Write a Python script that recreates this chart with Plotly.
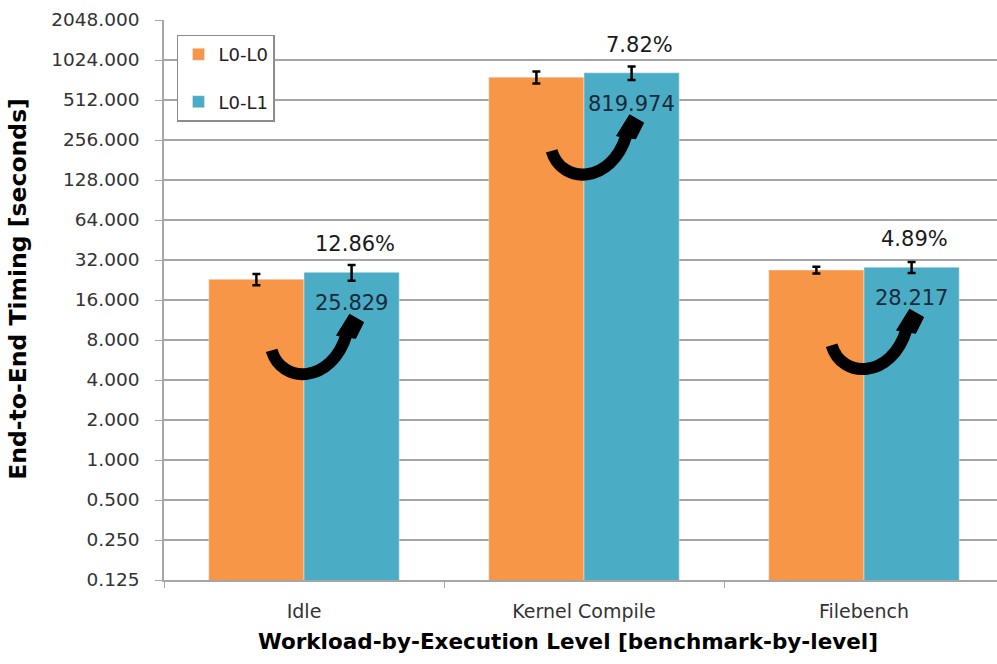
import numpy as np
import plotly.graph_objects as go

# Benchmarks and measured end-to-end timings (seconds)
categories = ["Idle", "Kernel Compile", "Filebench"]
l0_l0 = [22.886, 760.50, 26.900]
l0_l1 = [25.829, 819.974, 28.217]
l0_l0_err = [2.2, 78.0, 1.6]
l0_l1_err = [3.5, 95.0, 2.7]
overhead_labels = ["12.86%", "7.82%", "4.89%"]
value_labels = ["25.829", "819.974", "28.217"]

y_tickvals = [0.125, 0.25, 0.5, 1, 2, 4, 8, 16, 32, 64, 128, 256, 512, 1024, 2048]
y_ticktext = ["0.125", "0.250", "0.500", "1.000", "2.000", "4.000", "8.000", "16.000",
              "32.000", "64.000", "128.000", "256.000", "512.000", "1024.000", "2048.000"]

ORANGE = "#F79646"
TEAL = "#4BACC6"
GRID = "#a6a6a6"
FONT = "DejaVu Sans"

fig = go.Figure()
fig.add_trace(go.Bar(
    name="L0-L0", x=categories, y=l0_l0, marker_color=ORANGE, legendgroup="a",
    error_y=dict(type="data", array=l0_l0_err, color="black", thickness=2.5, width=4),
))
fig.add_trace(go.Bar(
    name="L0-L1", x=categories, y=l0_l1, marker_color=TEAL, legendgroup="b",
    error_y=dict(type="data", array=l0_l1_err, color="black", thickness=2.5, width=4),
))

# Overhead percentage above each L0-L1 bar and its value just inside the top
annotations = []
pct_xshift = [3, 8, 3]
for i, (v, pct, lab) in enumerate(zip(l0_l1, overhead_labels, value_labels)):
    annotations.append(dict(x=i + 0.17, y=np.log10(v), xref="x", yref="y", text=pct,
                            showarrow=False, yshift=28, xshift=pct_xshift[i],
                            font=dict(family=FONT, size=21, color="#1a1a1a")))
    annotations.append(dict(x=i + 0.17, y=np.log10(v), xref="x", yref="y", text=lab,
                            showarrow=False, yshift=-31,
                            font=dict(family=FONT, size=21, color="#1a2a3a")))

annotations.append(dict(x=0, y=0.52, xref="paper", yref="paper", xanchor="center",
                        yanchor="middle", xshift=-146, textangle=-90, showarrow=False,
                        text="<b>End-to-End Timing [seconds]</b>",
                        font=dict(family=FONT, size=23.5, color="black")))
annotations.append(dict(x=0.485, y=0, xref="paper", yref="paper", xanchor="center",
                        yanchor="middle", yshift=-61, showarrow=False,
                        text="<b>Workload-by-Execution Level [benchmark-by-level]</b>",
                        font=dict(family=FONT, size=21.5, color="black")))

# Curved "from L0-L0 to L0-L1" arrows, laid out in pixel offsets from the top of each L0-L1 bar
PX_PER_CAT = 280.0
PX_PER_DOUBLING = 40.0


def to_xy(i, v, dx, dy):
    return i + 0.17 + dx / PX_PER_CAT, v * 2 ** (-dy / PX_PER_DOUBLING)


shapes = []
for i, v in enumerate(l0_l1):
    p0 = to_xy(i, v, -80, 78)
    c1 = to_xy(i, v, -70, 112)
    c2 = to_xy(i, v, -20, 112)
    p3 = to_xy(i, v, -5, 62)
    shapes.append(dict(type="path", xref="x", yref="y",
                       path=f"M{p0[0]},{p0[1]} C{c1[0]},{c1[1]} {c2[0]},{c2[1]} {p3[0]},{p3[1]}",
                       line=dict(color="black", width=12)))
    h1 = to_xy(i, v, -15, 63)
    h2 = to_xy(i, v, -2, 42)
    h3 = to_xy(i, v, 12, 50)
    h4 = to_xy(i, v, 4, 66)
    shapes.append(dict(type="path", xref="x", yref="y",
                       path=f"M{h1[0]},{h1[1]} L{h2[0]},{h2[1]} L{h3[0]},{h3[1]} L{h4[0]},{h4[1]} Z",
                       fillcolor="black", line=dict(color="black", width=1)))

fig.update_layout(
    width=997, height=664,
    margin=dict(l=164, r=0, t=20, b=84),
    paper_bgcolor="white", plot_bgcolor="white",
    barmode="group", bargap=0.32, bargroupgap=0,
    font=dict(family=FONT, size=18, color="#333333"),
    legend=dict(x=0.0156, y=0.974, xanchor="left", yanchor="top",
                bgcolor="white", bordercolor="#8c8c8c", borderwidth=1.5,
                font=dict(family=FONT, size=18, color="#222222"),
                tracegroupgap=21, traceorder="grouped"),
    annotations=annotations,
    shapes=shapes,
    xaxis=dict(type="category", range=[-0.5, 2.475], showgrid=False,
               showline=True, linecolor=GRID, linewidth=1.5,
               ticks="outside", tickson="boundaries", ticklen=6, tickcolor=GRID,
               tickfont=dict(family=FONT, size=19, color="#333333"),
               ticklabelstandoff=13),
    yaxis=dict(type="log", range=[np.log10(0.125), np.log10(2048)],
               tickvals=y_tickvals, ticktext=y_ticktext,
               showgrid=True, gridcolor=GRID, gridwidth=1.5, zeroline=False,
               showline=True, linecolor=GRID, linewidth=1.5,
               ticks="outside", ticklen=7, tickcolor=GRID,
               tickfont=dict(family=FONT, size=18.5, color="#333333"),
               ticklabelstandoff=12),
)

fig.write_html("out.html")
